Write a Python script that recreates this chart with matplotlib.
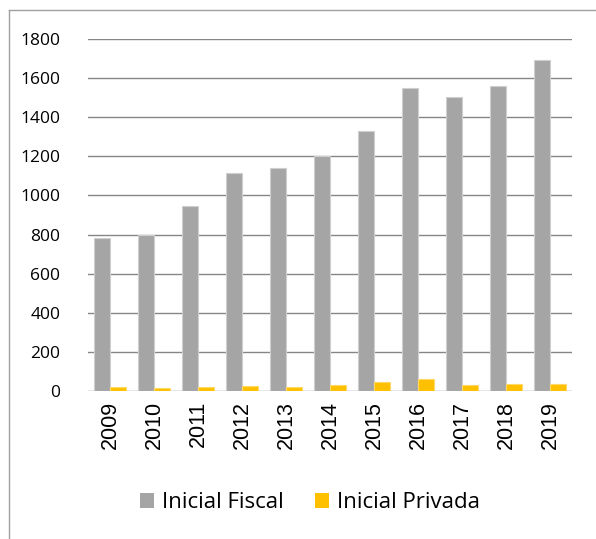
import numpy as np
import matplotlib
matplotlib.use("Agg")
import matplotlib.pyplot as plt
from matplotlib.lines import Line2D
from matplotlib.patches import Patch

years = ["2009", "2010", "2011", "2012", "2013", "2014",
         "2015", "2016", "2017", "2018", "2019"]
inicial_fiscal = [780, 800, 945, 1115, 1140, 1200, 1330, 1548, 1505, 1562, 1695]
inicial_privada = [22, 17, 22, 27, 22, 32, 48, 62, 32, 36, 38]
y_ticks = [0, 200, 400, 600, 800, 1000, 1200, 1400, 1600, 1800]

W, H = 596, 539
fig = plt.figure(figsize=(W / 100, H / 100), dpi=100)
ax = fig.add_axes([88 / W, 1 - 391 / H, (572 - 88) / W, (391 - 39) / H])

x = np.arange(len(years))
bw = 0.364
ax.bar(x - bw / 2, inicial_fiscal, bw, color="#a5a5a5", edgecolor="#cfcfcf",
       linewidth=0.8, zorder=3)
ax.bar(x + bw / 2, inicial_privada, bw, color="#ffc000", edgecolor="#ffd966",
       linewidth=0.8, zorder=3)

ax.set_xlim(-0.5, len(years) - 0.5)
ax.set_ylim(0, 1800)
ax.set_yticks(y_ticks)
ax.set_yticklabels([str(v) for v in y_ticks], family="Open Sans", fontsize=12.5)
ax.set_xticks(x)
ax.set_xticklabels(years, rotation=90, family="Liberation Sans", fontsize=15.5,
                   va="top", ha="center")
ax.tick_params(axis="y", length=0, pad=20)
ax.tick_params(axis="x", length=0, pad=7)
ax.grid(axis="y", color="#868686", linewidth=1.0, zorder=0)
for s in ax.spines.values():
    s.set_visible(False)

# outer chart border (left and top)
fig.add_artist(Line2D([8.5 / W, 8.5 / W], [0, 1 - 9.5 / H], color="#a0a0a0",
                      linewidth=1.0, transform=fig.transFigure))
fig.add_artist(Line2D([8.5 / W, 1], [1 - 9.5 / H, 1 - 9.5 / H], color="#a0a0a0",
                      linewidth=1.0, transform=fig.transFigure))

handles = [Patch(facecolor="#a5a5a5", edgecolor="none", label="Inicial Fiscal"),
           Patch(facecolor="#ffc000", edgecolor="none", label="Inicial Privada")]
fig.legend(handles=handles, loc="center", bbox_to_anchor=(310 / W, 1 - 503 / H),
           ncol=2, frameon=False, prop={"family": "Open Sans", "size": 16},
           handlelength=0.65, handleheight=0.65, handletextpad=0.35,
           columnspacing=1.4)

fig.savefig("out.png", dpi=100)
